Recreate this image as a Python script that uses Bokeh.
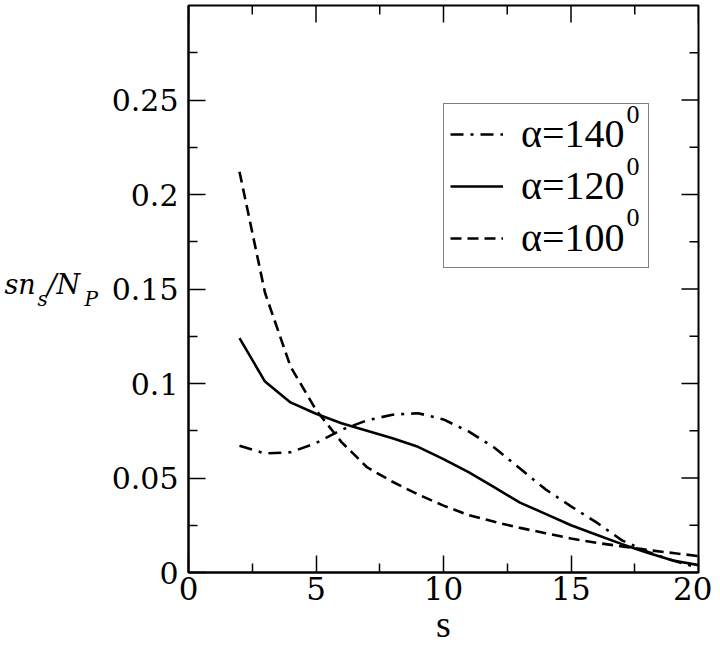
import math
from bokeh.plotting import figure
from bokeh.layouts import row
from bokeh.models import Range1d, FixedTicker, Legend, LegendItem
from bokeh.core.properties import value
from bokeh.embed import file_html
from bokeh.resources import INLINE

# ---- data ----
s_vals = list(range(2, 21))
alpha140 = [0.067, 0.063, 0.0636, 0.0685, 0.0755, 0.0805, 0.0835, 0.0843, 0.081, 0.0745,
            0.066, 0.055, 0.044, 0.035, 0.0265, 0.017, 0.011, 0.0063, 0.0025]
alpha120 = [0.124, 0.101, 0.090, 0.084, 0.079, 0.075, 0.071, 0.0665, 0.060, 0.053,
            0.045, 0.037, 0.031, 0.025, 0.020, 0.015, 0.0105, 0.0063, 0.0039]
alpha100 = [0.212, 0.148, 0.109, 0.086, 0.069, 0.0557, 0.048, 0.0413, 0.0354, 0.0303,
            0.0268, 0.0236, 0.0208, 0.018, 0.0157, 0.0138, 0.0119, 0.0103, 0.0087]
series_labels = ["α=140", "α=120", "α=100"]
x_ticks = [0, 5, 10, 15, 20]
x_minor = [2.5, 7.5, 12.5, 17.5]
y_ticks = [0, 0.05, 0.1, 0.15, 0.2, 0.25]
y_minor = [0.025, 0.075, 0.125, 0.175, 0.225, 0.275]
y_tick_labels = ["0", "0.05", "0.1", "0.15", "0.2", "0.25"]
X_MIN, X_MAX = 0, 20
Y_MIN, Y_MAX = 0, 0.3

SERIF = "Liberation Serif"
TICKF = "DejaVu Serif"
YF = "DejaVu Serif"
H = 654

# ---- left strip carrying the y-axis title (sn_s / N_P) ----
lab = figure(width=108, height=H, output_backend="svg", toolbar_location=None,
             x_range=Range1d(0, 108), y_range=Range1d(H, 0),
             x_axis_location=None, y_axis_location=None, min_border=0)
lab.grid.visible = False
lab.outline_line_color = None
lab.background_fill_color = "white"
lab.border_fill_color = "white"
YB, YS = 322, 339
lab.text(x=[4], y=[YB], text=["sn"], text_font=value(YF), text_font_style="italic",
         text_font_size="27px", text_baseline="alphabetic", text_color="black")
lab.text(x=[37], y=[YS], text=["s"], text_font=value(YF), text_font_style="italic",
         text_font_size="20px", text_baseline="alphabetic", text_color="black")
lab.text(x=[47], y=[YB], text=["/N"], text_font=value(YF), text_font_style="italic",
         text_font_size="27px", text_baseline="alphabetic", text_color="black")
lab.text(x=[84], y=[YS], text=["P"], text_font=value(YF), text_font_style="italic",
         text_font_size="20px", text_baseline="alphabetic", text_color="black")

# ---- main plot ----
p = figure(width=604, height=H, output_backend="svg", toolbar_location=None,
           x_range=Range1d(X_MIN, X_MAX), y_range=Range1d(Y_MIN, Y_MAX),
           min_border_left=80, min_border_right=14, min_border_top=5, min_border_bottom=82)
p.xgrid.visible = False
p.ygrid.visible = False
p.outline_line_color = "black"
p.outline_line_width = 2
p.background_fill_color = "white"
p.border_fill_color = "white"


def style_axis(ax, ticks, minor, font_size, standoff):
    ax.ticker = FixedTicker(ticks=ticks, minor_ticks=minor)
    ax.axis_line_color = "black"
    ax.axis_line_width = 2
    ax.major_tick_line_color = "black"
    ax.major_tick_line_width = 1.5
    ax.minor_tick_line_color = "black"
    ax.minor_tick_line_width = 1.5
    ax.major_tick_in = 17
    ax.major_tick_out = 0
    ax.minor_tick_in = 9
    ax.minor_tick_out = 0
    ax.major_label_text_font = TICKF
    ax.major_label_text_color = "black"
    ax.major_label_text_font_size = font_size
    ax.major_label_standoff = standoff


style_axis(p.xaxis[0], x_ticks, x_minor, "31px", 4)
style_axis(p.yaxis[0], y_ticks, y_minor, "30px", 10)
p.yaxis[0].major_label_overrides = {t: l for t, l in zip(y_ticks, y_tick_labels)}
p.xaxis[0].axis_label = "s"
p.xaxis[0].axis_label_text_font = SERIF
p.xaxis[0].axis_label_text_font_style = "normal"
p.xaxis[0].axis_label_text_font_size = "38px"
p.xaxis[0].axis_label_text_color = "black"
p.xaxis[0].axis_label_standoff = 0

# mirrored inward ticks on the top and right edges (half of each dash is clipped by the frame)
p.scatter(x=x_ticks, y=[Y_MAX] * len(x_ticks), marker="dash", size=34, angle=math.pi / 2,
          line_color="black", line_width=1.5)
p.scatter(x=x_minor, y=[Y_MAX] * len(x_minor), marker="dash", size=18, angle=math.pi / 2,
          line_color="black", line_width=1.5)
p.scatter(x=[X_MAX] * len(y_ticks), y=y_ticks, marker="dash", size=34,
          line_color="black", line_width=1.5)
p.scatter(x=[X_MAX] * len(y_minor), y=y_minor, marker="dash", size=18,
          line_color="black", line_width=1.5)

r140 = p.line(s_vals, alpha140, line_color="black", line_width=2.6, line_dash="13 7 3 7")
r120 = p.line(s_vals, alpha120, line_color="black", line_width=2.6)
r100 = p.line(s_vals, alpha100, line_color="black", line_width=2.6, line_dash="11 6")

legend = Legend(items=[LegendItem(label=series_labels[0], renderers=[r140]),
                       LegendItem(label=series_labels[1], renderers=[r120]),
                       LegendItem(label=series_labels[2], renderers=[r100])],
                location=(255, 304))
legend.glyph_width = 53
legend.glyph_height = 46
legend.label_height = 46
legend.label_width = 121
legend.label_standoff = 18
legend.padding = 6
legend.spacing = 5
legend.margin = 0
legend.border_line_color = "black"
legend.border_line_width = 1.5
legend.background_fill_alpha = 0
legend.label_text_font = SERIF
legend.label_text_font_size = "40px"
legend.label_text_color = "black"
p.add_layout(legend)

# superscript degree zeros next to the legend labels
sup = p.text(x=[17.18, 17.18, 17.18], y=[0.2425, 0.2150, 0.1877], text=["0", "0", "0"],
             text_font=value(SERIF), text_font_size="26px", text_baseline="alphabetic",
             text_align="left", text_color="black")
sup.level = "overlay"

layout = row(lab, p, spacing=0)
open("out.html", "w").write(file_html(layout, INLINE))
